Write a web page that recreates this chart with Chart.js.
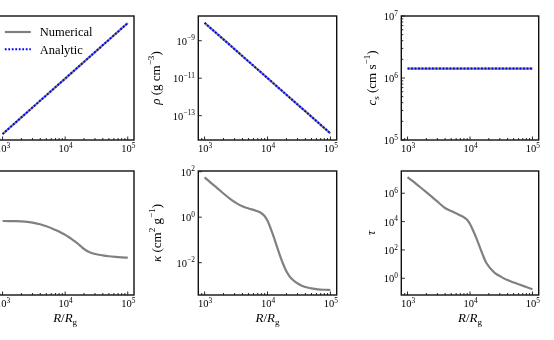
<!DOCTYPE html>
<html>
<head>
<meta charset="utf-8">
<script src="https://cdn.jsdelivr.net/npm/chart.js@4/dist/chart.umd.min.js"></script>
<style>
html, body { margin: 0; padding: 0; background: #fff; }
#fig { position: relative; width: 554px; height: 340px; overflow: hidden; }
#fig canvas { position: absolute; }
</style>
</head>
<body>
<div id="fig"></div>
<script>
// radii (R / R_g) for the straight power-law panels
var rTop = [1000, 2000, 5000, 10000, 20000, 50000, 100000];
var hNum = [1.0e12, 2.83e12, 1.12e13, 3.16e13, 8.94e13, 3.54e14, 1.0e15];
var hAna = [1.0e12, 2.83e12, 1.12e13, 3.16e13, 8.94e13, 3.54e14, 1.0e15];
var rhoNum = [9.0e-9, 1.17e-9, 7.8e-11, 1.01e-11, 1.31e-12, 8.8e-14, 1.13e-14];
var rhoAna = [9.0e-9, 1.17e-9, 7.8e-11, 1.01e-11, 1.31e-12, 8.8e-14, 1.13e-14];
var csNum = [1.42e6, 1.42e6, 1.42e6, 1.42e6, 1.42e6, 1.42e6, 1.42e6];
var csAna = [1.42e6, 1.42e6, 1.42e6, 1.42e6, 1.42e6, 1.42e6, 1.42e6];

// radii for the bottom row
var rBot = [1000, 1259, 1585, 1995, 2512, 3162, 3981, 5012, 6310, 7079, 7943, 8913, 10000,
            11220, 12589, 14125, 15849, 17783, 19953, 22387, 25119, 31623, 39811, 50119, 63096, 79433, 100000];
var temp = [617, 615, 611, 603, 586, 557, 515, 462, 403, 372, 343, 313, 285,
            257, 229, 202, 176, 151, 130, 116, 107, 96.6, 90.8, 86.7, 83.8, 81.5, 79.8];
var kappa = [56.2, 32.4, 19.1, 11.0, 6.61, 4.27, 3.02, 2.40, 2.00, 1.78, 1.51, 1.15, 0.692,
             0.324, 0.132, 0.0513, 0.0200, 0.00851, 0.00417, 0.00251, 0.00178, 0.00112, 0.000851,
             0.000741, 0.000676, 0.000646, 0.000631];
var tau = [1.35e7, 6.31e6, 2.75e6, 1.20e6, 5.13e5, 2.14e5, 9.12e4, 5.50e4, 3.39e4, 2.69e4, 2.04e4, 1.38e4, 6.76e3,
           2.34e3, 708, 191, 51.3, 15.1, 6.92, 3.80, 2.34, 1.26, 0.741, 0.501, 0.347, 0.245, 0.170];

// tick exponents
var xTicks = [3, 4, 5];
var rhoTicks = [-9, -11, -13];
var csTicks = [5, 6, 7];
var kappaTicks = [2, 0, -2];
var tauTicks = [6, 4, 2, 0];

var seriesLabels = ['Numerical', 'Analytic'];

var SERIF = "'Liberation Serif', 'DejaVu Serif', serif";
var GREY = '#808080';
var BLUE = '#0000ff';
var TICK_PX = 10.5, TITLE_PX = 13, LEGEND_PX = 12.5;

function font(size, italic) {
    return (italic ? 'italic ' : '') + size + 'px ' + SERIF;
}

function partSize(p, size) {
    return (p[1] === 'sup' || p[1] === 'sub') ? size * 0.7 : size;
}

function mathWidth(ctx, parts, size) {
    var w = 0;
    parts.forEach(function(p) {
        ctx.font = font(partSize(p, size), p[1] === 'i');
        w += ctx.measureText(p[0]).width;
    });
    return w;
}

// draw a small piece of "math" text, x = left start, y = baseline
function drawMath(ctx, parts, x, y, size) {
    parts.forEach(function(p) {
        var dy = 0;
        if (p[1] === 'sup') dy = -size * 0.42;
        if (p[1] === 'sub') dy = size * 0.22;
        ctx.font = font(partSize(p, size), p[1] === 'i');
        ctx.fillText(p[0], x, y + dy);
        x += ctx.measureText(p[0]).width;
    });
}

function tickParts(e) {
    return [['10', 'r'], [String(e).replace('-', '\u2212'), 'sup']];
}

function minorValues(lo, hi) {
    var out = [];
    for (var d = lo; d <= hi; d++) {
        for (var k = 2; k <= 9; k++) out.push(k * Math.pow(10, d));
    }
    return out;
}

function axesPlugin(cfg) {
    return {
        id: 'mplAxes',
        afterDraw: function(chart) {
            var ctx = chart.ctx, a = chart.chartArea;
            var xs = chart.scales.x, ys = chart.scales.y;
            ctx.save();
            ctx.fillStyle = '#000';
            ctx.strokeStyle = '#111';
            ctx.textBaseline = 'alphabetic';

            // ticks (pointing inwards)
            ctx.lineWidth = 0.9;
            ctx.beginPath();
            xTicks.forEach(function(e) {
                var px = xs.getPixelForValue(Math.pow(10, e));
                ctx.moveTo(px, a.bottom); ctx.lineTo(px, a.bottom - 3.5);
            });
            minorValues(2, 4).forEach(function(v) {
                if (v < xs.min || v > xs.max) return;
                var px = xs.getPixelForValue(v);
                ctx.moveTo(px, a.bottom); ctx.lineTo(px, a.bottom - 2);
            });
            (cfg.yTicks || []).forEach(function(e) {
                var py = ys.getPixelForValue(Math.pow(10, e));
                ctx.moveTo(a.left, py); ctx.lineTo(a.left + 3.5, py);
            });
            if (cfg.yMinor) {
                minorValues(cfg.yMinor[0], cfg.yMinor[1]).forEach(function(v) {
                    if (v < ys.min || v > ys.max) return;
                    var py = ys.getPixelForValue(v);
                    ctx.moveTo(a.left, py); ctx.lineTo(a.left + 2, py);
                });
            }
            ctx.stroke();

            // frame
            ctx.lineWidth = 1.4;
            ctx.strokeRect(a.left, a.top, a.right - a.left, a.bottom - a.top);

            // tick labels
            xTicks.forEach(function(e) {
                var parts = tickParts(e);
                var px = xs.getPixelForValue(Math.pow(10, e));
                var w = mathWidth(ctx, parts, TICK_PX);
                drawMath(ctx, parts, px - w / 2 + 0.5, a.bottom + 12, TICK_PX);
            });
            (cfg.yTicks || []).forEach(function(e) {
                var parts = tickParts(e);
                var py = ys.getPixelForValue(Math.pow(10, e));
                var w = mathWidth(ctx, parts, TICK_PX);
                drawMath(ctx, parts, a.left - 3.5 - w, py + 4, TICK_PX);
            });

            // axis titles
            if (cfg.xTitle) {
                var wx = mathWidth(ctx, cfg.xTitle, TITLE_PX);
                drawMath(ctx, cfg.xTitle, (a.left + a.right) / 2 - wx / 2, a.bottom + 27, TITLE_PX);
            }
            if (cfg.yTitle) {
                var wy = mathWidth(ctx, cfg.yTitle, TITLE_PX);
                ctx.save();
                ctx.translate(a.left - cfg.yTitleGap, (a.top + a.bottom) / 2);
                ctx.rotate(-Math.PI / 2);
                drawMath(ctx, cfg.yTitle, -wy / 2, 4.5, TITLE_PX);
                ctx.restore();
            }

            // legend
            if (cfg.legend) {
                chart.data.datasets.forEach(function(ds, i) {
                    var y = a.top + 16 + i * 17.3;
                    ctx.save();
                    ctx.strokeStyle = ds.borderColor;
                    ctx.lineWidth = ds.borderWidth;
                    ctx.setLineDash(ds.borderDash || []);
                    ctx.beginPath();
                    ctx.moveTo(a.left + 8.5, y); ctx.lineTo(a.left + 34.5, y);
                    ctx.stroke();
                    ctx.restore();
                    ctx.font = font(LEGEND_PX, false);
                    ctx.fillText(ds.label, a.left + 43.5, y + 4.2);
                });
            }
            ctx.restore();
        }
    };
}

function pts(xs, ys) {
    return xs.map(function(x, i) { return { x: x, y: ys[i] }; });
}

function numSet(xs, ys) {
    return { label: seriesLabels[0], data: pts(xs, ys), borderColor: GREY, borderWidth: 2.2,
             pointRadius: 0, cubicInterpolationMode: 'monotone', order: 1 };
}
function anaSet(xs, ys) {
    return { label: seriesLabels[1], data: pts(xs, ys), borderColor: BLUE, borderWidth: 2,
             borderDash: [1.8, 1.7], pointRadius: 0, order: 0 };
}

function makePanel(box, yMin, yMax, datasets, cfg) {
    var L = box[0], T = box[1], R = box[2], B = box[3];
    var cx = Math.floor(L) - 70, cy = Math.floor(T) - 15;
    var cw = Math.ceil(R) + 20 - cx, ch = Math.ceil(B) + 45 - cy;
    var cv = document.createElement('canvas');
    cv.width = cw; cv.height = ch;
    cv.style.left = cx + 'px'; cv.style.top = cy + 'px';
    cv.style.width = cw + 'px'; cv.style.height = ch + 'px';
    document.getElementById('fig').appendChild(cv);

    new Chart(cv.getContext('2d'), {
        type: 'line',
        data: { datasets: datasets },
        options: {
            responsive: false,
            animation: false,
            devicePixelRatio: 1,
            layout: { padding: { left: L - cx, top: T - cy, right: cx + cw - R, bottom: cy + ch - B } },
            plugins: { legend: { display: false }, tooltip: { enabled: false } },
            scales: {
                x: { type: 'logarithmic', display: false, min: Math.pow(10, 2.9), max: Math.pow(10, 5.1) },
                y: { type: 'logarithmic', display: false, min: yMin, max: yMax }
            }
        },
        plugins: [axesPlugin(cfg)]
    });
}

var colX = [[-3.7, 134], [198.3, 336.7], [401.3, 538.7]];
var rowY = [[16, 140], [171, 295]];
function box(c, r) { return [colX[c][0], rowY[r][0], colX[c][1], rowY[r][1]]; }

var xTitle = [['R', 'i'], ['/', 'r'], ['R', 'i'], ['g', 'sub']];

makePanel(box(0, 0), Math.pow(10, 11.84), Math.pow(10, 15.19),
    [numSet(rTop, hNum), anaSet(rTop, hAna)], { legend: true });

makePanel(box(1, 0), Math.pow(10, -14.3), Math.pow(10, -7.68),
    [numSet(rTop, rhoNum), anaSet(rTop, rhoAna)],
    { yTicks: rhoTicks, yTitleGap: 43,
      yTitle: [['\u03c1', 'i'], [' (g cm', 'r'], ['\u22123', 'sup'], [')', 'r']] });

makePanel(box(2, 0), 1e5, 1e7,
    [numSet(rTop, csNum), anaSet(rTop, csAna)],
    { yTicks: csTicks, yMinor: [5, 6], yTitleGap: 30,
      yTitle: [['c', 'i'], ['s', 'sub'], [' (cm s', 'r'], ['\u22121', 'sup'], [')', 'r']] });

makePanel(box(0, 1), 1e1, 1e4,
    [numSet(rBot, temp)], { xTitle: xTitle });

makePanel(box(1, 1), Math.pow(10, -3.42), Math.pow(10, 2.03),
    [numSet(rBot, kappa)],
    { yTicks: kappaTicks, yTitleGap: 42, xTitle: xTitle,
      yTitle: [['\u03ba', 'i'], [' (cm', 'r'], ['2', 'sup'], [' g', 'r'], ['\u22121', 'sup'], [')', 'r']] });

makePanel(box(2, 1), Math.pow(10, -1.18), Math.pow(10, 7.57),
    [numSet(rBot, tau)],
    { yTicks: tauTicks, yTitleGap: 31, xTitle: xTitle,
      yTitle: [['\u03c4', 'i']] });
</script>
</body>
</html>
